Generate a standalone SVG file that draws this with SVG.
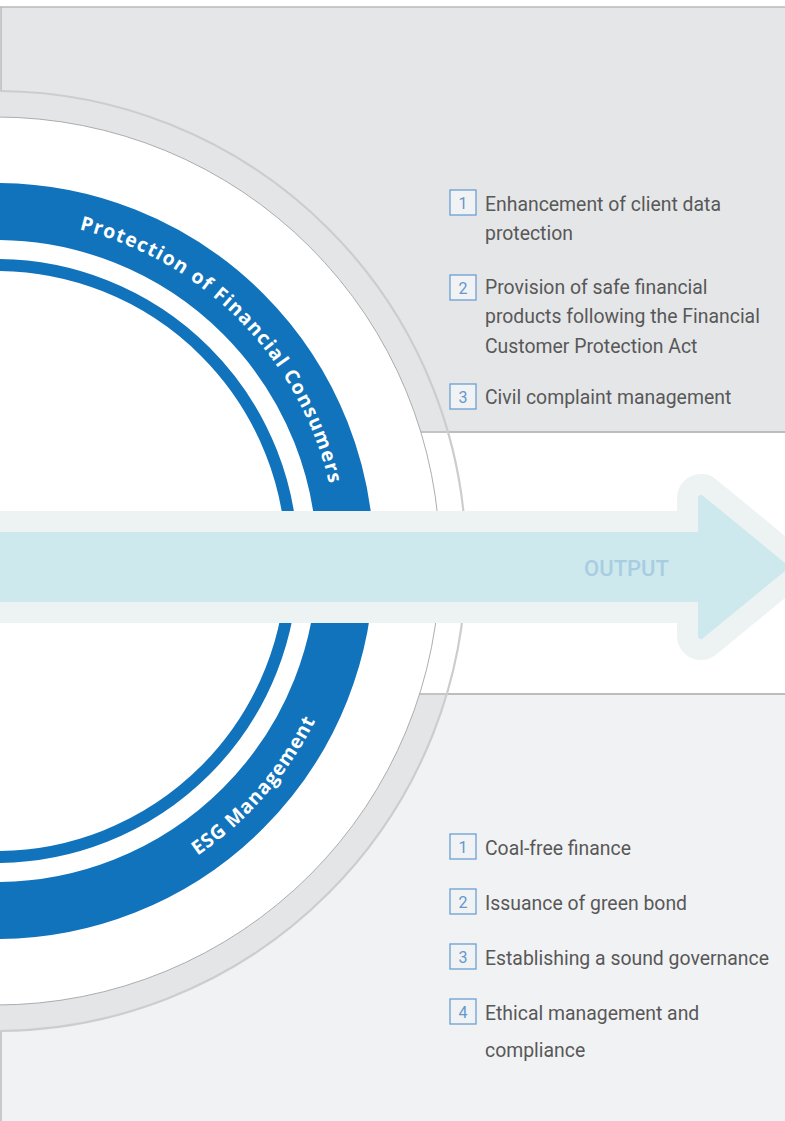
<svg xmlns="http://www.w3.org/2000/svg" width="785" height="1121" viewBox="0 0 785 1121">
  <style>
    .item { font-family: Roboto, "Liberation Sans", sans-serif; font-size: 19.4px; fill: #585858; }
    .num { font-family: Roboto, "Liberation Sans", sans-serif; font-size: 16px; font-weight: 400; fill: #6397cd; text-anchor: middle; }
    .box { fill: #f1f2f4; stroke: #6c9fd3; stroke-width: 1.3; }
    .rule { stroke: #b8b9bb; stroke-width: 1.5; fill: none; }
    .band { font-family: "Open Sans", "DejaVu Sans", sans-serif; font-size: 19.5px; font-weight: 700; fill: #ffffff; }
  </style>
  <defs>
    <!-- baseline arcs for the ring titles, centred on the hub at (-4,561) -->
    <path id="arcTop" d="M -4,219 A 342 342 0 0 1 338,561"/>
    <path id="arcBottom" d="M -4,918 A 357 357 0 0 0 353,561"/>
  </defs>

  <!-- background panels -->
  <rect x="0" y="0" width="785" height="1121" fill="#ffffff"/>
  <rect x="1" y="7" width="790" height="425" fill="#e5e6e8"/>
  <rect x="1" y="694" width="790" height="430" fill="#f1f2f4"/>
  <path class="rule" d="M 0,7 H 785 M 1,7 V 120 M 1,1000 V 1121 M 0,432 H 785 M 0,694 H 785"/>

  <!-- outer ring of the hub -->
  <circle cx="-4" cy="561" r="457" fill="none" stroke="#e4e5e7" stroke-width="26"/>
  <rect x="0" y="433" width="785" height="260" fill="#ffffff"/>
  <path class="rule" d="M 300,432 H 785 M 300,694 H 785"/>
  <circle cx="-4" cy="561" r="470" fill="none" stroke="#cdcdcf" stroke-width="2.2"/>
  <circle cx="-4" cy="561" r="444" fill="#ffffff" stroke="#a3a4a6" stroke-width="0.9"/>

  <!-- blue rings -->
  <g id="rings" fill="none" stroke="#1173bb">
    <circle cx="-4" cy="561" r="349.5" stroke-width="57"/>
    <circle cx="-4" cy="561" r="296" stroke-width="12"/>
  </g>

  <!-- output arrow -->
  <g id="output-arrow">
    <path d="M -60,535 H 701 V 498 L 785,567 L 701,636 V 599 H -60 Z" fill="#ecf3f2" stroke="#ecf3f2" stroke-width="48" stroke-linejoin="round"/>
    <path d="M -60,535 H 701 V 498 L 785,567 L 701,636 V 599 H -60 Z" fill="#cde9ed" stroke="#cde9ed" stroke-width="6" stroke-linejoin="round"/>
    <text x="626.5" y="575.5" font-family="Roboto, 'Liberation Sans', sans-serif" font-size="22" font-weight="500" fill="#a8cde1" text-anchor="middle">OUTPUT</text>
  </g>

  <!-- ring titles -->
  <g id="title-protection">
    <text class="band"><textPath href="#arcTop" startOffset="84" textLength="375" lengthAdjust="spacing">Protection of Financial Consumers</textPath></text>
  </g>
  <g id="title-esg">
    <text class="band"><textPath href="#arcBottom" startOffset="214" textLength="181" lengthAdjust="spacing">ESG Management</textPath></text>
  </g>

  <!-- consumer protection items -->
  <g id="protection-1">
    <rect class="box" x="450" y="190" width="26" height="25"/>
    <text class="num" x="463" y="209">1</text>
    <text class="item" x="485" y="211">Enhancement of client data</text>
    <text class="item" x="485" y="240">protection</text>
  </g>
  <g id="protection-2">
    <rect class="box" x="450" y="275" width="26" height="25"/>
    <text class="num" x="463" y="294">2</text>
    <text class="item" x="485" y="294.3">Provision of safe financial</text>
    <text class="item" x="485" y="323.3">products following the Financial</text>
    <text class="item" x="485" y="352.5">Customer Protection Act</text>
  </g>
  <g id="protection-3">
    <rect class="box" x="450" y="384" width="26" height="25"/>
    <text class="num" x="463" y="403">3</text>
    <text class="item" x="485" y="404.3">Civil complaint management</text>
  </g>

  <!-- ESG items -->
  <g id="esg-1">
    <rect class="box" x="450" y="834" width="26" height="25"/>
    <text class="num" x="463" y="853">1</text>
    <text class="item" x="485" y="855">Coal-free finance</text>
  </g>
  <g id="esg-2">
    <rect class="box" x="450" y="889" width="26" height="25"/>
    <text class="num" x="463" y="908">2</text>
    <text class="item" x="485" y="910">Issuance of green bond</text>
  </g>
  <g id="esg-3">
    <rect class="box" x="450" y="944" width="26" height="25"/>
    <text class="num" x="463" y="963">3</text>
    <text class="item" x="485" y="965">Establishing a sound governance</text>
  </g>
  <g id="esg-4">
    <rect class="box" x="450" y="999" width="26" height="25"/>
    <text class="num" x="463" y="1018">4</text>
    <text class="item" x="485" y="1020">Ethical management and</text>
    <text class="item" x="485" y="1057.3">compliance</text>
  </g>
</svg>
